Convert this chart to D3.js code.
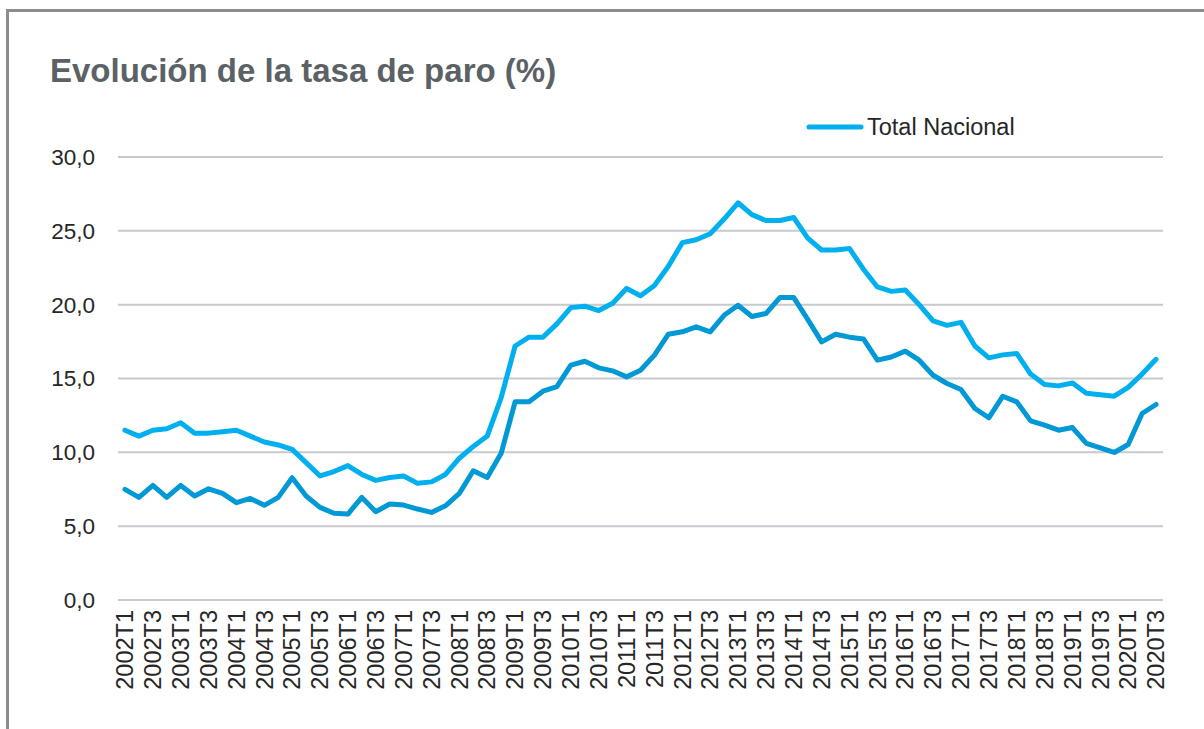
<!DOCTYPE html>
<html><head><meta charset="utf-8">
<script src="https://cdn.jsdelivr.net/npm/d3@7"></script>
<style>html,body{margin:0;padding:0;background:#fff;}svg{display:block;}</style>
</head><body>
<svg id="c" width="1204" height="729"></svg>
<script>
const years = d3.range(2002, 2021);
const quarters = ["T1","T2","T3","T4"];
const categories = [];
years.forEach(y => quarters.forEach(q => { if (!(y === 2020 && q === "T4")) categories.push(y + q); }));

const totalNacional = [
  11.5, 11.1, 11.5, 11.6,
  12.0, 11.3, 11.3, 11.4,
  11.5, 11.1, 10.7, 10.5,
  10.2, 9.3, 8.4, 8.7,
  9.1, 8.5, 8.1, 8.3,
  8.4, 7.9, 8.0, 8.5,
  9.6, 10.4, 11.1, 13.7,
  17.2, 17.8, 17.8, 18.7,
  19.8, 19.9, 19.6, 20.1,
  21.1, 20.6, 21.3, 22.6,
  24.2, 24.4, 24.8, 25.8,
  26.9, 26.1, 25.7, 25.7,
  25.9, 24.5, 23.7, 23.7,
  23.8, 22.4, 21.2, 20.9,
  21.0, 20.0, 18.9, 18.6,
  18.8, 17.2, 16.4, 16.6,
  16.7, 15.3, 14.6, 14.5,
  14.7, 14.0, 13.9, 13.8,
  14.4, 15.3, 16.3
];
const region = [
  7.49, 6.95, 7.76, 6.95,
  7.76, 7.04, 7.53, 7.22,
  6.59, 6.88, 6.41, 6.95,
  8.28, 7.04, 6.27, 5.87,
  5.82, 6.95, 5.98, 6.50,
  6.43, 6.16, 5.93, 6.38,
  7.22, 8.75, 8.30, 9.93,
  13.42, 13.42, 14.14, 14.45,
  15.9, 16.17, 15.72, 15.52,
  15.11, 15.56, 16.58, 18.0,
  18.16, 18.5, 18.16, 19.28,
  19.96, 19.2, 19.4, 20.48,
  20.48, 19.0, 17.48, 18.0,
  17.8, 17.68, 16.24, 16.46,
  16.85, 16.24, 15.22, 14.66,
  14.25, 12.97, 12.34, 13.8,
  13.42, 12.13, 11.84, 11.5,
  11.68, 10.6, 10.3, 9.99,
  10.53, 12.63, 13.24
];
const yTicks = [0, 5, 10, 15, 20, 25, 30];
const xTickLabels = categories.filter(c => c.endsWith("T1") || c.endsWith("T3"));
const title = "Evolución de la tasa de paro (%)";
const legendLabel = "Total Nacional";

const svg = d3.select("#c");
const font = "'Liberation Sans', Arial, sans-serif";

// frame
svg.append("path").attr("d", "M7.5,729 L7.5,10.5 L1204,10.5")
  .attr("fill", "none").attr("stroke", "#8c8c8c").attr("stroke-width", 3);

const x = d3.scaleBand().domain(categories).range([118, 1163]).paddingInner(0).paddingOuter(0);
const y = d3.scaleLinear().domain([0, 30]).range([600, 157]);
const cx = c => x(c) + x.bandwidth() / 2;

// gridlines
svg.append("g").selectAll("line").data(yTicks).join("line")
  .attr("x1", 118).attr("x2", 1163)
  .attr("y1", d => y(d)).attr("y2", d => y(d))
  .attr("stroke", "#c7c9cd").attr("stroke-width", 2);

// y axis labels
const fmt = d => d3.format(".1f")(d).replace(".", ",");
svg.append("g").selectAll("text").data(yTicks).join("text")
  .attr("x", 95).attr("y", d => y(d)).attr("dy", "0.35em")
  .attr("text-anchor", "end")
  .attr("font-family", font).attr("font-size", 22.5).attr("fill", "#262626")
  .text(fmt);

// x axis labels
svg.append("g").selectAll("text").data(xTickLabels).join("text")
  .attr("transform", d => `translate(${cx(d)},610) rotate(-90)`)
  .attr("dy", "0.35em")
  .attr("text-anchor", "end")
  .attr("font-family", font).attr("font-size", 23.5).attr("fill", "#262626")
  .text(d => d);

const line = d3.line().x((d, i) => cx(categories[i])).y(d => y(d));

svg.append("path").datum(region).attr("d", line)
  .attr("fill", "none").attr("stroke", "#0098d5").attr("stroke-width", 5)
  .attr("stroke-linejoin", "round").attr("stroke-linecap", "round");
svg.append("path").datum(totalNacional).attr("d", line)
  .attr("fill", "none").attr("stroke", "#00b0ee").attr("stroke-width", 5)
  .attr("stroke-linejoin", "round").attr("stroke-linecap", "round");

// title
svg.append("text").attr("x", 50).attr("y", 82)
  .attr("font-family", font).attr("font-size", 33).attr("font-weight", "bold")
  .attr("fill", "#5b6165").text(title);

// legend
svg.append("line").attr("x1", 809).attr("x2", 861).attr("y1", 127).attr("y2", 127)
  .attr("stroke", "#00b0ee").attr("stroke-width", 5).attr("stroke-linecap", "round");
svg.append("text").attr("x", 867).attr("y", 127).attr("dy", "0.35em")
  .attr("font-family", font).attr("font-size", 23.5).attr("fill", "#262626")
  .text(legendLabel);
</script>
</body></html>
